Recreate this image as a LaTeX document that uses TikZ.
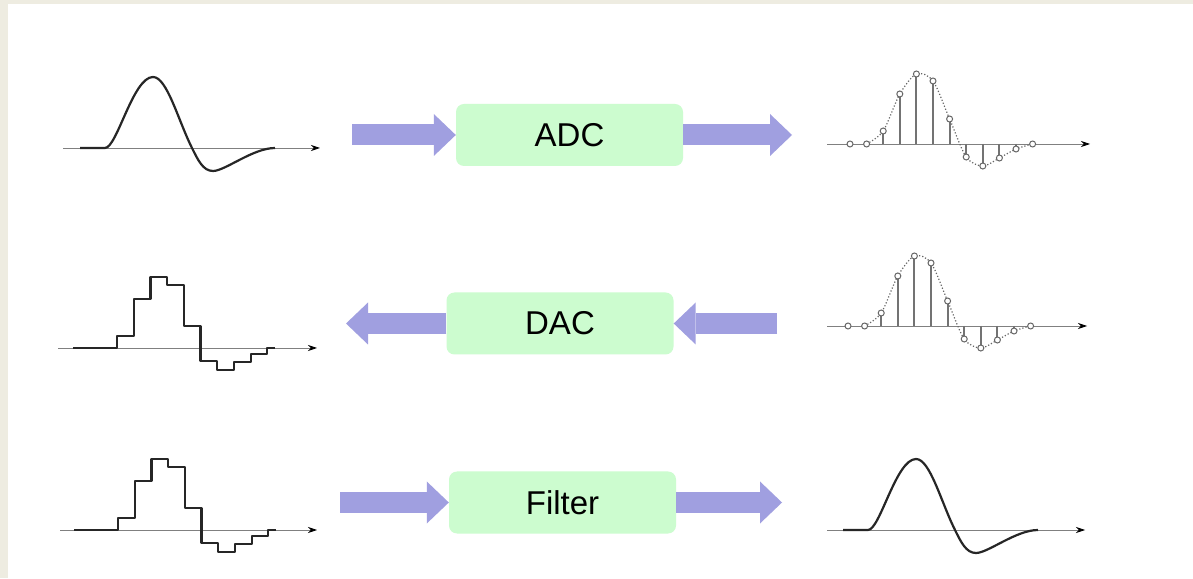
\documentclass[tikz,border=0pt]{standalone}
\usepackage{fontspec}
\setmainfont{Liberation Sans}
\definecolor{boxgreen}{HTML}{CCFCCF}
\definecolor{flowblue}{HTML}{A09FE0}
\definecolor{pagebeige}{HTML}{EEECE1}
\usetikzlibrary{arrows.meta, positioning}

\tikzset{
  pulse/.pic={
    \draw[sig] (-25,0) -- (0,0) .. controls (12,0) and (28,71) .. (48,71)
      .. controls (62,71) and (73,28) .. (87,0)
      .. controls (93,-12) and (98,-23) .. (108,-23)
      .. controls (120,-23) and (148,0) .. (170,0);
  },
  stairs/.pic={
    \draw[sig] (-44,0) foreach \h [count=\k from 0] in {12,49,71,63,22,-13,-22,-14,-6}
      { -| (\k*16.7,\h) -- ++(16.7,0) } -| (150.3,0) -- ++(8,0);
  },
  samples/.pic={
    \draw[envline] plot[smooth] coordinates {(16.6,0) (33.2,13) (49.8,50) (66.4,70) (83,63)
      (99.6,25) (116.2,-13) (132.8,-22) (149.4,-14) (166,-5) (182.6,0)};
    \foreach \h [count=\k from 0] in {0,0,13,50,70,63,25,-13,-22,-14,-5,0} {
      \draw[stemline] (\k*16.6,0) -- (\k*16.6,\h);
      \draw[smp] (\k*16.6,\h) circle (3);
    }
  }
}

\begin{document}
\begin{tikzpicture}[x=1pt, y=1pt,
    blk/.style={fill=boxgreen, rounded corners=8pt,
                minimum width=227pt, minimum height=62pt, inner sep=0pt,
                font=\fontsize{33}{36}\selectfont},
    fatarrow/.style={flowblue, line width=21pt,
                     -{Triangle[length=22pt 0 0, width=42pt 0 0, line width=0pt]}},
    timeaxis/.style={gray, line width=0.8pt, -{Stealth[length=9pt, width=6pt, black]}},
    sig/.style={black!85, line width=2.2pt, line join=round},
    stemline/.style={black!55, line width=2pt},
    smp/.style={black!60, line width=1pt, fill=white},
    envline/.style={black!60, line width=1.2pt, dotted}
  ]
  \useasboundingbox (0,0) rectangle (1193,578);
  \fill[pagebeige] (0,0) rectangle (1193,578);
  \fill[white] (8,0) rectangle (1193,574);

  % ADC
  \draw[timeaxis] (63,430) -- (320,430);
  \pic at (105,430) {pulse};
  \node[blk] (adc) at (569.5,443) {ADC};
  \coordinate (adcin) at (352,443);
  \coordinate (adcout) at (792,443);
  \draw[fatarrow] (adcin) -- (adc);
  \draw[fatarrow] (adc) -- (adcout);
  \draw[timeaxis] (827,434) -- (1090,434);
  \pic at (850,434) {samples};

  % DAC
  \draw[timeaxis] (58,230) -- (317,230);
  \pic at (117,230) {stairs};
  \node[blk] (dac) at (560,254.5) {DAC};
  \coordinate (dacin) at (777,254.5);
  \coordinate (dacout) at (346,254.5);
  \draw[fatarrow] (dacin) -- (dac);
  \draw[fatarrow] (dac) -- (dacout);
  \draw[timeaxis] (827,252) -- (1087,252);
  \pic at (848,252) {samples};

  % Filter
  \draw[timeaxis] (60,48) -- (317,48);
  \pic at (118,48) {stairs};
  \node[blk] (filt) at (562.5,75.5) {Filter};
  \coordinate (filtin) at (340,75.5);
  \coordinate (filtout) at (782,75.5);
  \draw[fatarrow] (filtin) -- (filt);
  \draw[fatarrow] (filt) -- (filtout);
  \draw[timeaxis] (827,48) -- (1085,48);
  \pic at (868,48) {pulse};
\end{tikzpicture}
\end{document}
